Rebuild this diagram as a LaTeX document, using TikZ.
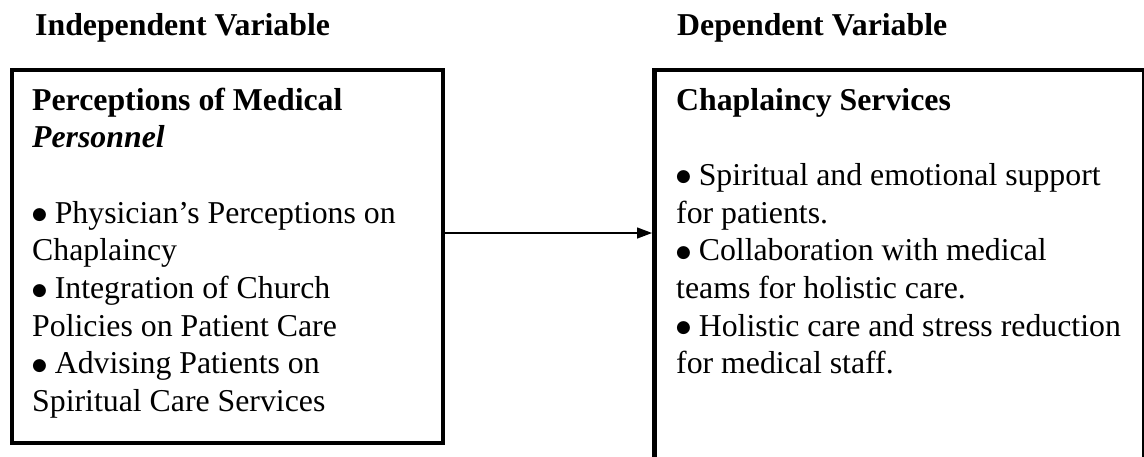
\documentclass[tikz,border=0pt]{standalone}
\usepackage{fontspec}
\setmainfont{Liberation Serif}
\newfontfamily\dejavu{DejaVu Sans}
\usetikzlibrary{arrows.meta}
\newcommand\bigbul{\makebox[22.6pt][l]{\raisebox{3.5pt}{\dejavu\fontsize{17}{17}\selectfont ●}}}
\begin{document}
\begin{tikzpicture}[x=1pt,y=-1pt,
  box/.style={draw, line width=4.5pt, outer sep=0pt, inner sep=0pt},
  txt/.style={anchor=base west, inner sep=0pt, font=\fontsize{31.8}{37.7}\selectfont},
  hd/.style={anchor=base west, inner sep=0pt, font=\fontsize{31.8}{37.7}\selectfont\bfseries},
  arr/.style={line width=1.3pt, -{Triangle[length=15pt,width=11pt]}}]
\useasboundingbox (0,0) rectangle (1144,456);
\clip (0,0) rectangle (1144,456);
\fill[white] (0,0) rectangle (1144,456);
% column headings
\node[hd] (tI) at (35,35) {Independent Variable};
\node[hd] (tD) at (677,35) {Dependent Variable};
% boxes
\node[box, minimum width=431pt, minimum height=373pt] (L) at (227.5,256.5) {};
\node[box, minimum width=489.75pt, minimum height=420pt] (R) at (899.4,280) {};
% left box text
\node[hd]  (l1) at (32,110)   {Perceptions of Medical};
\node[hd]  (l2) at (32,147.7) {\textit{Personnel}};
\node[txt] (l3) at (32,223.1) {\bigbul Physician’s Perceptions on};
\node[txt] (l4) at (32,260.8) {Chaplaincy};
\node[txt] (l5) at (32,298.5) {\bigbul Integration of Church};
\node[txt] (l6) at (32,336.2) {Policies on Patient Care};
\node[txt] (l7) at (32,373.9) {\bigbul Advising Patients on};
\node[txt] (l8) at (32,411.6) {Spiritual Care Services};
% right box text
\node[hd]  (r1) at (676,110)   {Chaplaincy Services};
\node[txt] (r2) at (676,185.4) {\bigbul Spiritual and emotional support};
\node[txt] (r3) at (676,223.1) {for patients.};
\node[txt] (r4) at (676,260.8) {\bigbul Collaboration with medical};
\node[txt] (r5) at (676,298.5) {teams for holistic care.};
\node[txt] (r6) at (676,336.2) {\bigbul Holistic care and stress reduction};
\node[txt] (r7) at (676,373.9) {for medical staff.};
% connector
\coordinate (ay) at (0,233);
\draw[arr, shorten >=2.5pt] (L.east |- ay) -- (R.west |- ay);
\end{tikzpicture}
\end{document}
